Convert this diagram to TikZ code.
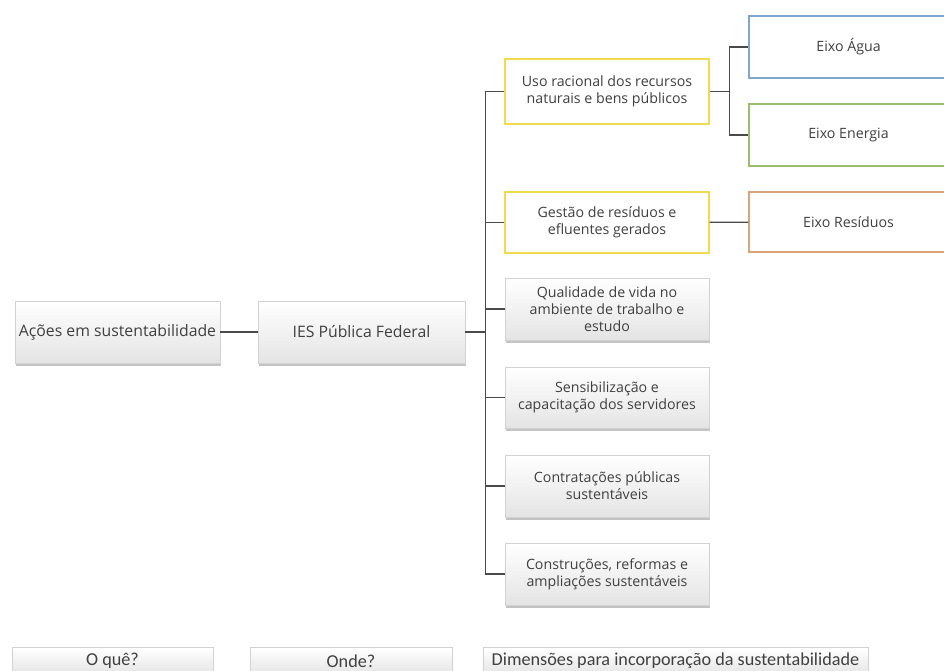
\documentclass[tikz,border=0pt]{standalone}
\usepackage{fontspec}
\setmainfont{Open Sans}
\newfontfamily\labelfont{Carlito}
\usetikzlibrary{shadows,calc}
\definecolor{txt}{HTML}{404040}
\definecolor{linec}{HTML}{4A4A4A}
\definecolor{cardedge}{HTML}{D2D2D2}
\definecolor{cardlow}{HTML}{E4E4E4}
\definecolor{yel}{HTML}{F0DC4E}
\definecolor{blu}{HTML}{7FA8CC}
\definecolor{grn}{HTML}{9BBB6E}
\definecolor{org}{HTML}{D9A47A}
\begin{document}
\begin{tikzpicture}[x=1pt,y=-1pt,
  card/.style={draw=cardedge, line width=0.6pt, top color=white, bottom color=cardlow,
    drop shadow={shadow xshift=1.2pt, shadow yshift=-2.6pt, opacity=0.55, fill=gray!85},
    align=center, text=txt, inner sep=1pt},
  big/.style={font=\fontsize{15.8}{19}\selectfont},
  small/.style={font=\fontsize{14.2}{16.8}\selectfont},
  plain/.style={draw=#1, line width=1.1pt, fill=white, align=center, text=txt, inner sep=1pt,
    font=\fontsize{14.2}{16.8}\selectfont},
  tag/.style={card, font=\labelfont\fontsize{18.2}{20}\selectfont, minimum height=27pt},
  conn/.style={draw=linec, line width=1.1pt}
]
\useasboundingbox (0,0) rectangle (944,671);
\clip (0,0) rectangle (944,671);
\fill[white] (0,0) rectangle (944,671);

% root chain
\node[card, big, minimum width=205pt, minimum height=62pt] (acoes) at (117.5,332) {Ações em sustentabilidade};
\node[card, big, minimum width=207pt, minimum height=62pt] (ies) at (361.5,332) {IES Pública Federal};

% dimensions
\node[plain=yel, minimum width=204pt, minimum height=65pt] (uso) at (607,91.5) {Uso racional dos recursos\\naturais e bens públicos};
\node[plain=yel, minimum width=204pt, minimum height=61pt] (gestao) at (607,222.5) {Gestão de resíduos e\\efluentes gerados};
\node[card, small, minimum width=204pt, minimum height=62pt] (qual) at (607,309) {Qualidade de vida no\\ambiente de trabalho e\\estudo};
\node[card, small, minimum width=204pt, minimum height=61pt] (sens) at (607,397.5) {Sensibilização e\\capacitação dos servidores};
\node[card, small, minimum width=204pt, minimum height=62pt] (contr) at (607,486) {Contratações públicas\\sustentáveis};
\node[card, small, minimum width=204pt, minimum height=62pt] (constr) at (607,574) {Construções, reformas e\\ampliações sustentáveis};

% axes
\node[plain=blu, minimum width=199pt, minimum height=62pt] (agua) at (848.5,47) {Eixo Água};
\node[plain=grn, minimum width=199pt, minimum height=62pt] (energia) at (848.5,135) {Eixo Energia};
\node[plain=org, minimum width=199pt, minimum height=60pt] (resid) at (848.5,222) {Eixo Resíduos};

% column headings
\node[tag, minimum width=201pt] (oque) at (112.5,661) {O quê?};
\node[tag, minimum width=202pt] (onde) at (351,661) {Onde?};
\node[tag, minimum width=385pt] (dim) at (675.5,661) {Dimensões para incorporação da sustentabilidade};

% connectors
\coordinate (tr) at ($(ies.east)+(20,0)$);
\coordinate (sb) at ($(uso.east)+(20,0)$);
\draw[conn] (acoes) -- (ies);
\draw[conn] (ies.east) -- (tr);
\foreach \c in {uso,gestao,qual,sens,contr,constr}
  \draw[conn] (tr) |- (\c.west);
\draw[conn] (uso.east) -- (sb);
\draw[conn] (sb) |- (agua.west);
\draw[conn] (sb) |- (energia.west);
\draw[conn] (gestao) -- (resid);
\end{tikzpicture}
\end{document}
